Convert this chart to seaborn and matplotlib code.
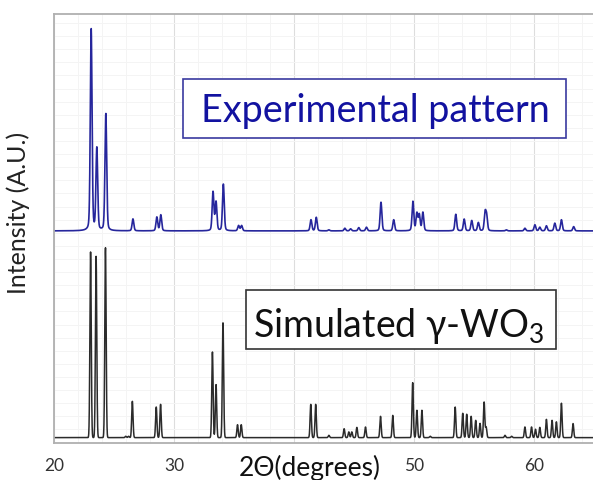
import numpy as np
import pandas as pd
import matplotlib.pyplot as plt
import seaborn as sns
from matplotlib.patches import Rectangle

# Peak positions (2-theta, degrees) and relative heights
sim_pos = [23.05, 23.51, 24.29, 25.98, 26.22, 26.53, 28.52, 28.88, 33.20, 33.50,
           34.08, 35.29, 35.60, 41.39, 41.80, 42.90, 44.17, 44.56, 44.81, 45.23,
           45.95, 47.20, 48.22, 49.88, 50.23, 50.65, 51.34, 53.42, 54.05, 54.38,
           54.75, 55.13, 55.49, 55.83, 56.00, 57.57, 58.12, 59.23, 59.78, 60.11,
           60.47, 61.02, 61.49, 61.85, 62.27, 63.24]
sim_int = [97.7, 95.4, 100.0, 0.7, 0.7, 19.1, 16.1, 17.5, 45.1, 27.9,
           60.5, 6.8, 6.8, 17.5, 17.5, 1.2, 4.7, 3.0, 3.0, 5.4,
           5.6, 11.2, 11.7, 28.9, 14.4, 14.4, 0.7, 16.1, 12.8, 12.3,
           11.2, 9.1, 7.5, 18.7, 5.5, 1.2, 0.7, 5.6, 5.6, 4.4,
           5.4, 9.6, 9.1, 8.3, 18.1, 7.4]

exp_pos = [23.10, 23.57, 24.32, 26.58, 28.57, 28.90, 33.25, 33.50, 34.11, 35.38,
           35.63, 41.41, 41.85, 42.90, 44.23, 44.71, 45.39, 46.03, 47.24, 48.30,
           49.90, 50.23, 50.43, 50.73, 53.47, 54.17, 54.80, 55.35, 55.91, 56.04,
           57.68, 59.23, 60.06, 60.47, 61.02, 61.72, 62.27, 63.29]
exp_int = [100.0, 40.7, 58.0, 5.9, 6.8, 7.9, 19.2, 14.2, 23.1, 2.6,
           2.6, 5.5, 6.7, 0.5, 1.3, 1.0, 1.6, 1.8, 14.2, 5.5,
           14.5, 8.6, 7.9, 9.1, 8.2, 5.8, 5.1, 4.1, 8.6, 7.0,
           0.5, 1.3, 3.0, 1.8, 2.5, 3.8, 5.5, 2.1]

x_ticks = [20, 30, 40, 50, 60]
x_tick_labels = ["20", "30", "", "50", "60"]

EXP_OFFSET = 108.8
EXP_SCALE = 1.062


def profile(x, pos, inten, fwhm, eta):
    # pseudo-Voigt peaks summed over the peak list
    y = np.zeros_like(x)
    s = fwhm / 2.3548
    g = fwhm / 2
    for c, h in zip(pos, inten):
        gauss = np.exp(-((x - c) ** 2) / (2 * s ** 2))
        lor = g ** 2 / ((x - c) ** 2 + g ** 2)
        y += h * ((1 - eta) * gauss + eta * lor)
    return y


tt = np.linspace(19.5, 65.5, 6000)
sim_df = pd.DataFrame({"2theta": tt, "intensity": profile(tt, sim_pos, sim_int, 0.13, 0.0)})
exp_df = pd.DataFrame({"2theta": tt,
                       "intensity": EXP_OFFSET + EXP_SCALE * profile(tt, exp_pos, exp_int, 0.17, 0.25)})

sns.set_style("white")
plt.rcParams["font.family"] = ["Lato", "DejaVu Sans"]
plt.rcParams["mathtext.default"] = "regular"

fig = plt.figure(figsize=(5.93, 4.8), dpi=100)
ax = fig.add_axes([0.091, 0.078, 0.909, 0.893])

sns.lineplot(data=exp_df, x="2theta", y="intensity", ax=ax, color="#26269c", lw=1.2)
sns.lineplot(data=sim_df, x="2theta", y="intensity", ax=ax, color="#2b2b2b", lw=1.1)

ax.set_xlim(20, 64.9)
ax.set_ylim(-2.6, 223)

# grid
ax.set_xticks(x_ticks)
ax.set_xticklabels(x_tick_labels)
ax.set_xticks(np.arange(20, 66, 2), minor=True)
ax.set_yticks(np.arange(-2.6, 223, 6.9), minor=True)
ax.set_yticks([])
ax.grid(True, which="major", axis="x", color="#dddddd", lw=0.8)
ax.grid(True, which="minor", color="#f4f4f4", lw=0.7)
ax.set_axisbelow(True)

for side in ["left", "top", "bottom"]:
    ax.spines[side].set_color("#b0b0b0")
    ax.spines[side].set_linewidth(1.3)
ax.spines["right"].set_visible(False)

ax.tick_params(axis="x", which="major", direction="out", length=5, color="#b0b0b0",
               labelsize=12.5, labelcolor="#333333", pad=6)
ax.tick_params(axis="x", which="minor", length=0)

ax.set_xlabel("2Θ(degrees)", fontsize=19, color="#111111")
ax.xaxis.set_label_coords(0.475, -0.059)
ax.xaxis.label.set_va("center")
ax.set_ylabel("Intensity (A.U.)", fontsize=18, color="#222222")
ax.yaxis.set_label_coords(-0.067, 0.535)
ax.yaxis.label.set_va("center")

# label boxes
ax.add_patch(Rectangle((0.239, 0.711), 0.711, 0.138, transform=ax.transAxes,
                       fc="white", ec="#3a3aa0", lw=1.2, zorder=5))
ax.text(0.597, 0.749, "Experimental pattern", transform=ax.transAxes,
        ha="center", va="baseline", fontsize=27.2, color="#1212a0", zorder=6)
ax.add_patch(Rectangle((0.356, 0.219), 0.575, 0.138, transform=ax.transAxes,
                       fc="white", ec="#333333", lw=1.2, zorder=5))
ax.text(0.640, 0.247, "Simulated γ-WO$_3$", transform=ax.transAxes,
        ha="center", va="baseline", fontsize=27, color="#111111", zorder=6)

fig.savefig("out.png", dpi=100)
